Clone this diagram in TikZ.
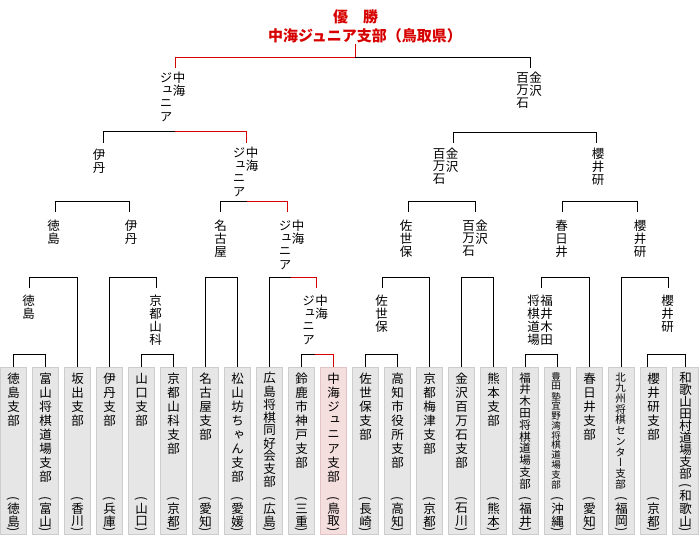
\documentclass[tikz,border=0pt]{standalone}
\usepackage{fontspec}
\usepackage{graphicx}
\setmainfont{Noto Sans CJK JP}
\newfontfamily\tatefont{Noto Sans CJK JP}[RawFeature=+vert]
\usepackage{xcolor}

\definecolor{boxfill}{RGB}{230,230,230}
\definecolor{boxline}{RGB}{205,205,205}
\definecolor{winfill}{RGB}{245,222,222}
\definecolor{winline}{RGB}{226,196,196}
\definecolor{winred}{RGB}{215,0,0}

% vertical (tategaki) text, one character per cell
\newdimen\tatep \tatep=13pt
\makeatletter
\def\tate@end{\tate@stop}
\def\tate@i#1{%
  \ifx\tate@end#1\else
    \hbox to 1em{\hss\vbox to\tatep{\vss\hbox{#1}\vss}\hss}%
    \expandafter\tate@i
  \fi}
\newcommand\tate[1]{\vtop{\offinterlineskip\tate@i#1\tate@end}}
\newcommand\tatetwo[2]{\hbox{\tate{#2}\kern0.5pt\tate{#1}}}
\newcommand\kakko[1]{\hbox to 1em{\hss\vbox to 6pt{\vss\hbox{\rmfamily\rotatebox[origin=c]{-90}{#1}}\vss}\hss}}
\newcommand\pref[1]{\vbox{\offinterlineskip\kakko{(}\tatep=12.75pt\relax\tate@i#1\tate@end\kakko{)}}}
\makeatother
\newcommand\teamsm[4]{\vbox to 167pt{\offinterlineskip\kern4.5pt
  {\fontsize{#1}{#1}\selectfont\tatep=#2\relax\tate{#3}}\vfill
  {\fontsize{12.5pt}{12.5pt}\selectfont\pref{#4}}\kern0.5pt}}
\newcommand\team[2]{\teamsm{12.5pt}{14pt}{#1}{#2}}

\begin{document}
\begin{tikzpicture}[
  x=1pt, y=-1pt,
  bline/.style={draw=black, line width=1pt},
  win/.style={draw=winred, line width=1pt},
  team/.style={rectangle, draw=boxline, fill=boxfill, line width=1pt,
    minimum width=25.5pt, minimum height=167pt, inner sep=0pt,
    font=\tatefont\fontsize{12.5pt}{12.5pt}\selectfont},
  teamwin/.style={team, draw=winline, fill=winfill},
  lab/.style={anchor=north, inner sep=0pt,
    font=\tatefont\fontsize{12.5pt}{12.5pt}\selectfont},
  headline/.style={text=winred, inner sep=1pt,
    font=\bfseries\fontsize{15pt}{15pt}\selectfont}
]
  \useasboundingbox (0,0) rectangle (700,550);

  \node[headline] (yusho) at (355.5,16.5) {優　勝};
  \node[headline] (champ) at (365,35.5) {中海ジュニア支部（鳥取県）};

  % teams
  \node[team] (t0) at (13.5,450.75) {\team{徳島支部}{徳島}};
  \node[team] (t1) at (45.5,450.75) {\team{富山将棋道場支部}{富山}};
  \node[team] (t2) at (77.5,450.75) {\team{坂出支部}{香川}};
  \node[team] (t3) at (109.5,450.75) {\team{伊丹支部}{兵庫}};
  \node[team] (t4) at (141.5,450.75) {\team{山口支部}{山口}};
  \node[team] (t5) at (173.5,450.75) {\team{京都山科支部}{京都}};
  \node[team] (t6) at (205.5,450.75) {\team{名古屋支部}{愛知}};
  \node[team] (t7) at (237.5,450.75) {\team{松山坊ちゃん支部}{愛媛}};
  \node[team] (t8) at (269.5,450.75) {\teamsm{12.5pt}{13pt}{広島将棋同好会支部}{広島}};
  \node[team] (t9) at (301.5,450.75) {\team{鈴鹿市神戸支部}{三重}};
  \node[teamwin] (t10) at (333.5,450.75) {\team{中海ジュニア支部}{鳥取}};
  \node[team] (t11) at (365.5,450.75) {\team{佐世保支部}{長崎}};
  \node[team] (t12) at (397.5,450.75) {\team{高知市役所支部}{高知}};
  \node[team] (t13) at (429.5,450.75) {\team{京都梅津支部}{京都}};
  \node[team] (t14) at (461.5,450.75) {\team{金沢百万石支部}{石川}};
  \node[team] (t15) at (493.5,450.75) {\team{熊本支部}{熊本}};
  \node[team] (t16) at (525.5,450.75) {\teamsm{11.5pt}{11.8pt}{福井木田将棋道場支部}{福井}};
  \node[team] (t17) at (557.5,450.75) {\teamsm{9.5pt}{9.8pt}{豊田塾宜野湾将棋道場支部}{沖縄}};
  \node[team] (t18) at (589.5,450.75) {\team{春日井支部}{愛知}};
  \node[team] (t19) at (621.5,450.75) {\teamsm{10.5pt}{10.7pt}{北九州将棋センター支部}{福岡}};
  \node[team] (t20) at (653.5,450.75) {\team{櫻井研支部}{京都}};
  \node[team] (t21) at (685.5,450.75) {\teamsm{12.5pt}{12pt}{和歌山田村道場支部}{和歌山}};

  % winners' names
  \node[lab] (fnA) at (172.5,71) {\tatetwo{中海}{ジュニア}};
  \node[lab] (fnB) at (529,71) {\tatetwo{金沢}{百万石}};

  \node[lab] (sfA) at (99,148) {\tate{伊丹}};
  \node[lab] (sfB) at (245.5,146) {\tatetwo{中海}{ジュニア}};
  \node[lab] (sfC) at (445.5,147) {\tatetwo{金沢}{百万石}};
  \node[lab] (sfD) at (598,147) {\tate{櫻井研}};

  \node[lab] (qfA) at (53.5,219) {\tate{徳島}};
  \node[lab] (qfB) at (131,219) {\tate{伊丹}};
  \node[lab] (qfC) at (220.5,219) {\tate{名古屋}};
  \node[lab] (qfD) at (291.5,219) {\tatetwo{中海}{ジュニア}};
  \node[lab] (qfE) at (406,219) {\tate{佐世保}};
  \node[lab] (qfF) at (475,219) {\tatetwo{金沢}{百万石}};
  \node[lab] (qfG) at (561.5,219) {\tate{春日井}};
  \node[lab] (qfH) at (640,219) {\tate{櫻井研}};

  \node[lab] (r2A) at (28.5,294) {\tate{徳島}};
  \node[lab] (r2B) at (155.5,294) {\tate{京都山科}};
  \node[lab] (r2C) at (315,294) {\tatetwo{中海}{ジュニア}};
  \node[lab] (r2D) at (381.5,294) {\tate{佐世保}};
  \node[lab] (r2E) at (540,294) {\tatetwo{福井木田}{将棋道場}};
  \node[lab] (r2F) at (667.5,294) {\tate{櫻井研}};

  % final
  \coordinate (fin) at (355,57.3);
  \coordinate (finA) at (175.3,68);
  \coordinate (finB) at (530.3,68);
  \draw[win] (finA) |- (fin);
  \draw[bline] (fin) -| (finB);
  \draw[win] (fin) -- (fin |- champ.south);

  % semi-finals
  \coordinate (smA) at (175.3,131.7);
  \coordinate (smAa) at (103.3,142.7);
  \coordinate (smAb) at (246.7,142.7);
  \draw[bline] (smAa) |- (smA);
  \draw[win] (smA) -| (smAb);
  \coordinate (smB) at (525,132.3);
  \coordinate (smBa) at (453.3,142.7);
  \coordinate (smBb) at (596.7,142.7);
  \draw[bline] (smBa) |- (smB) -| (smBb);

  % quarter-finals
  \coordinate (qA) at (92.5,201.3);
  \coordinate (qAa) at (55.7,212);
  \coordinate (qAb) at (129.3,212);
  \draw[bline] (qAa) |- (qA) -| (qAb);
  \coordinate (qB) at (247,201.3);
  \coordinate (qBa) at (220.7,212);
  \coordinate (qBb) at (287.3,212);
  \draw[bline] (qBa) |- (qB);
  \draw[win] (qB) -| (qBb);
  \coordinate (qC) at (442,201.3);
  \coordinate (qCa) at (408.3,212);
  \coordinate (qCb) at (475.7,212);
  \draw[bline] (qCa) |- (qC) -| (qCb);
  \coordinate (qD) at (600,201.3);
  \coordinate (qDa) at (562.3,212);
  \coordinate (qDb) at (637.3,212);
  \draw[bline] (qDa) |- (qD) -| (qDb);

  % second round
  \coordinate (rA) at (53.3,277.3);
  \coordinate (rAs) at (29.3,288);
  \draw[bline] (rAs) |- (rA) -| (t2);
  \coordinate (rB) at (133,277.3);
  \coordinate (rBs) at (156.3,288);
  \draw[bline] (t3) |- (rB) -| (rBs);
  \coordinate (rC) at (221.5,277.3);
  \draw[bline] (t6) |- (rC) -| (t7);
  \coordinate (rD) at (291,277.3);
  \coordinate (rDs) at (316,288);
  \draw[bline] (t8) |- (rD);
  \draw[win] (rD) -| (rDs);
  \coordinate (rE) at (406,277.3);
  \coordinate (rEs) at (382.3,288);
  \draw[bline] (rEs) |- (rE) -| (t13);
  \coordinate (rF) at (477.5,277.3);
  \draw[bline] (t14) |- (rF) -| (t15);
  \coordinate (rG) at (565,277.3);
  \coordinate (rGs) at (541,288);
  \draw[bline] (rGs) |- (rG) -| (t18);
  \coordinate (rH) at (644,277.3);
  \coordinate (rHs) at (668.3,288);
  \draw[bline] (t19) |- (rH) -| (rHs);

  % first round
  \coordinate (oA) at (29.5,354.7);
  \draw[bline] (t0) |- (oA) -| (t1);
  \coordinate (oB) at (157.5,354.7);
  \draw[bline] (t4) |- (oB) -| (t5);
  \coordinate (oC) at (315,354.7);
  \draw[bline] (t9) |- (oC);
  \draw[win] (oC) -| (t10);
  \coordinate (oD) at (381.5,354.7);
  \draw[bline] (t11) |- (oD) -| (t12);
  \coordinate (oE) at (541.5,354.7);
  \draw[bline] (t16) |- (oE) -| (t17);
  \coordinate (oF) at (667,354.7);
  \draw[bline] ([xshift=-6pt]t20.north) |- (oF) -| (t21);
\end{tikzpicture}
\end{document}
